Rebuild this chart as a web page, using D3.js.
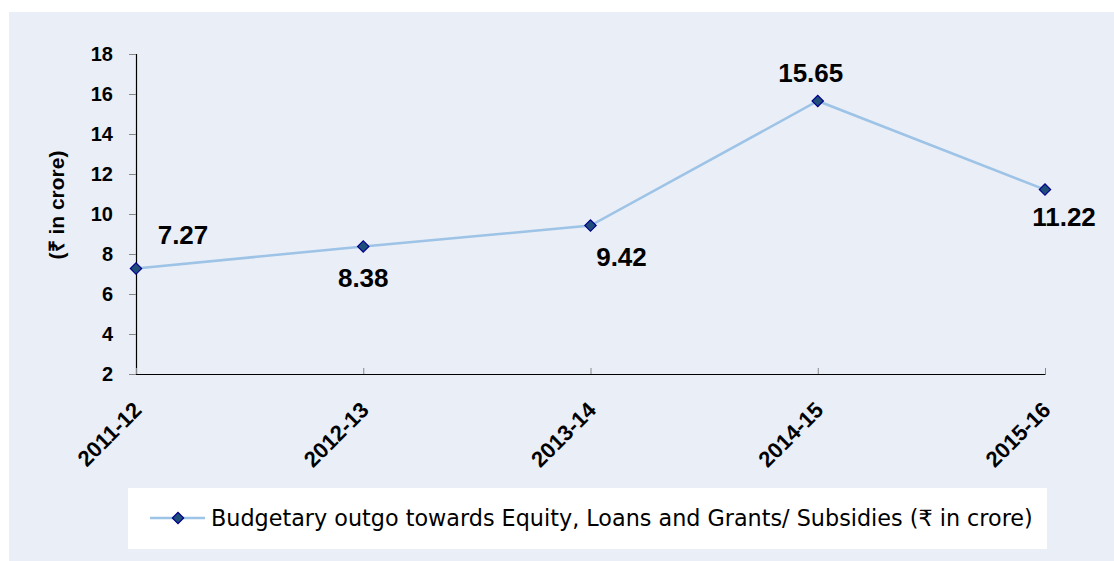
<!DOCTYPE html>
<html><head><meta charset="utf-8">
<script src="https://cdn.jsdelivr.net/npm/d3@7"></script>
<style>body{margin:0;background:#fff}svg{display:block}</style>
</head><body>
<svg id="c" width="1114" height="561"></svg>
<script>
const categories = ["2011-12","2012-13","2013-14","2014-15","2015-16"];
const values = [7.27, 8.38, 9.42, 15.65, 11.22];
const yTicks = [2,4,6,8,10,12,14,16,18];
const seriesName = "Budgetary outgo towards Equity, Loans and Grants/ Subsidies (₹ in crore)";
const yTitle = "(₹ in crore)";
// label placement: [dx, dy] relative to point
const labelPos = [[47,-31],[0,34],[31,34],[-7,-26],[19,30]];

const svg = d3.select("#c");
svg.append("rect").attr("x",9).attr("y",12).attr("width",1105).attr("height",549).attr("fill","#EAEEF7");

const x = d3.scalePoint().domain(categories).range([136,1045]);
const y = d3.scaleLinear().domain([2,18]).range([374,54]);

const fam = "Liberation Sans, Arial, sans-serif";
// y axis
const ya = svg.append("g").attr("transform","translate(136,0)")
  .call(d3.axisLeft(y).tickValues(yTicks).tickSize(7).tickPadding(16).tickFormat(d3.format("d")));
ya.select(".domain").attr("stroke","#000").attr("stroke-width",1.2);
ya.selectAll(".tick line").attr("stroke","#888");
ya.selectAll(".tick text").attr("font-family",fam).attr("font-weight","bold").attr("font-size",20).attr("fill","#000");

// x axis
const xa = svg.append("g").attr("transform","translate(0,374)")
  .call(d3.axisBottom(x).tickSize(-6).tickSizeOuter(0));
xa.select(".domain").attr("stroke","#000").attr("stroke-width",1.2);
xa.selectAll(".tick line").attr("stroke","#888");
xa.selectAll(".tick text").attr("font-family",fam).attr("font-weight","bold").attr("font-size",22).attr("fill","#000")
  .attr("text-anchor","end").attr("dy","0.35em").attr("y",0).attr("x",0)
  .attr("transform","translate(1,32) rotate(-45)");

// y title
svg.append("text").attr("transform","translate(58,205) rotate(-90)").attr("text-anchor","middle")
  .attr("dominant-baseline","middle")
  .attr("font-family",fam).attr("font-weight","bold").attr("font-size",21).text(yTitle);

// line
const line = d3.line().x((d,i)=>x(categories[i])).y(d=>y(d));
svg.append("path").datum(values).attr("d",line).attr("fill","none").attr("stroke","#9DC3E6").attr("stroke-width",2.5);

const marker = d3.symbol().type(d3.symbolSquare).size(64);
svg.selectAll(".pt").data(values).enter().append("path")
  .attr("d", marker)
  .attr("transform",(d,i)=>`translate(${x(categories[i])},${y(d)}) rotate(45)`)
  .attr("fill","#1F4E79").attr("stroke","#00008B").attr("stroke-width",1.2);

svg.selectAll(".lbl").data(values).enter().append("text")
  .attr("x",(d,i)=>x(categories[i])+labelPos[i][0])
  .attr("y",(d,i)=>y(d)+labelPos[i][1])
  .attr("text-anchor","middle").attr("dominant-baseline","middle")
  .attr("font-family",fam).attr("font-weight","bold").attr("font-size",26)
  .text(d=>d.toFixed(2));

// legend
const lg = svg.append("g");
lg.append("rect").attr("x",128).attr("y",488).attr("width",919).attr("height",61).attr("fill","#fff");
lg.append("line").attr("x1",150).attr("x2",205).attr("y1",518).attr("y2",518).attr("stroke","#9DC3E6").attr("stroke-width",2.5);
lg.append("path").attr("d", marker).attr("transform","translate(178,518) rotate(45)")
  .attr("fill","#1F4E79").attr("stroke","#00008B").attr("stroke-width",1.2);
lg.append("text").attr("x",211).attr("y",519).attr("dominant-baseline","middle")
  .attr("font-family","DejaVu Sans, Verdana, sans-serif").attr("font-size",22.3).attr("fill","#000").text(seriesName);
</script>
</body></html>
